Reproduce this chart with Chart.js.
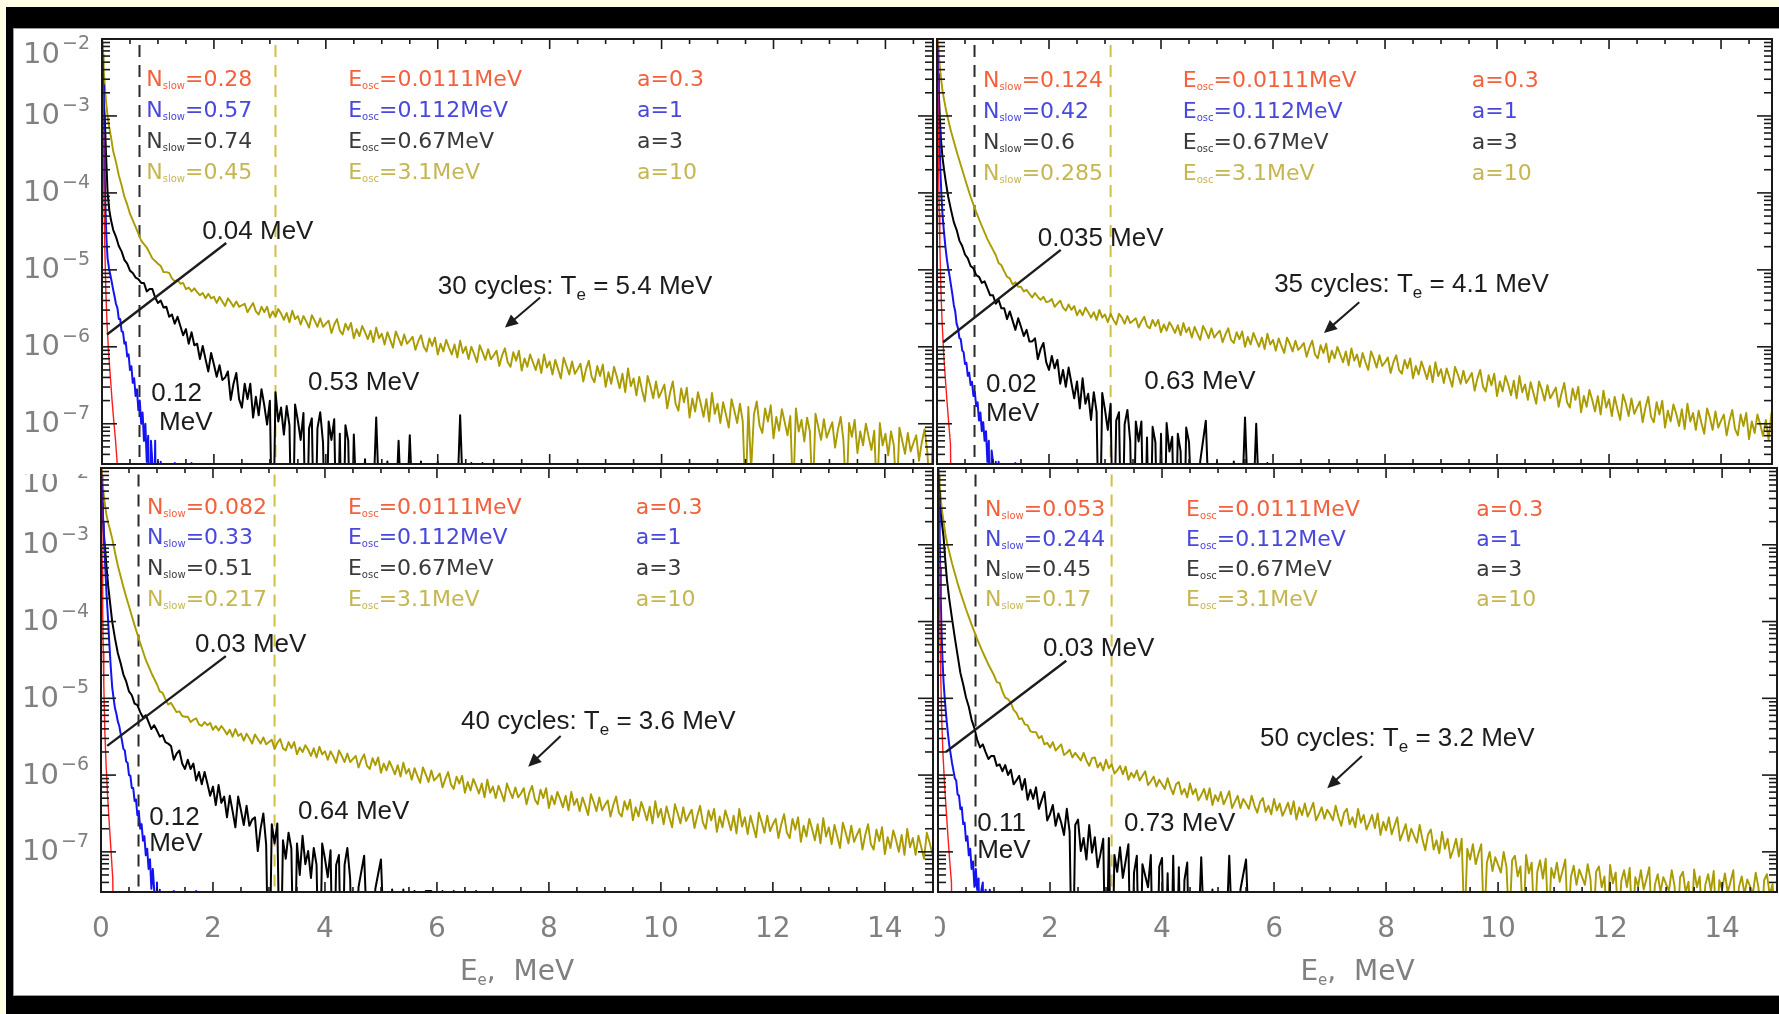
<!DOCTYPE html>
<html>
<head>
<meta charset="utf-8">
<title>Electron energy spectra</title>
<script src="https://cdn.jsdelivr.net/npm/chart.js@4.4.1/dist/chart.umd.min.js"></script>
<style>
  html, body { margin:0; padding:0; }
  body { width:1779px; height:1014px; overflow:hidden; background:#fffde6; position:relative; }
  #frame { position:absolute; left:6px; top:7px; width:1773px; height:1007px; background:#000; }
  #paper { position:absolute; left:13px; top:28px; width:1766px; height:968px; background:#fff; box-sizing:border-box;
           border-top:1px solid #9a9a9a; border-left:1px solid #9a9a9a; border-bottom:1px solid #9a9a9a; }
  canvas { position:absolute; }
</style>
</head>
<body>
<div id="frame"></div>
<div id="paper"></div>
<canvas id="c_tl"></canvas>
<canvas id="c_tr"></canvas>
<canvas id="c_bl"></canvas>
<canvas id="c_br"></canvas>
<script>
// ---------------- DATA ----------------
// energy bins, MeV
const eRed = [0.005,0.01,0.02,0.03,0.04,0.05,0.07,0.09,0.12,0.15,0.18,0.21,0.24,0.27,0.3];
const eBlue = [0.01,0.02,0.03,0.04,0.05,0.06,0.08,0.1,
  0.125,0.15,0.175,0.2,0.225,0.25,0.275,0.3,0.325,0.35,
  0.375,0.4,0.425,0.45,0.475,0.5,0.525,0.55,0.575,0.6,
  0.625,0.65,0.675,0.7,0.725,0.75,0.775,0.8,0.825,0.85,
  0.875,0.9,0.925,0.95,0.975,1.0,1.025,1.05,1.075,1.1,
  1.2,1.3,1.4,1.5,1.6,1.7,1.8];
const eBlack = [0.01,0.02,0.03,0.05,0.07,0.1,0.13,0.16,0.2,
  0.25,0.3,0.35,0.4,0.45,0.5,0.55,0.6,0.65,0.7,
  0.75,0.8,0.85,0.9,0.95,1.0,1.05,1.1,1.15,1.2,
  1.25,1.3,1.35,1.4,1.45,1.5,1.55,1.6,1.65,1.7,
  1.75,1.8,1.85,1.9,1.95,2.0,2.05,2.1,2.15,2.2,
  2.25,2.3,2.35,2.4,2.45,2.5,2.55,2.6,2.65,2.7,
  2.75,2.8,2.85,2.9,2.95,3.0,3.05,3.1,3.15,3.2,
  3.25,3.3,3.35,3.4,3.45,3.5,3.55,3.6,3.65,3.7,
  3.75,3.8,3.85,3.9,3.95,4.0,4.05,4.1,4.15,4.2,
  4.25,4.3,4.35,4.4,4.45,4.5,
  4.6,4.7,4.8,4.9,5.0,5.1,5.2,5.3,5.4,5.5,5.6,5.7,5.8,5.9,6.0,6.1,6.2,6.3,6.4,6.5,6.6,6.7,6.8,6.9,7.0];
const eOlive = [0.01,0.02,0.03,0.05,0.07,0.1,0.13,0.16,0.2,0.25,0.3,0.35,0.4,0.45,0.5,0.6,0.7,0.8,0.9,1.0,
  1.05,1.1,1.15,1.2,1.25,1.3,1.35,1.4,1.45,1.5,
  1.55,1.6,1.65,1.7,1.75,1.8,1.85,1.9,1.95,2.0,
  2.05,2.1,2.15,2.2,2.25,2.3,2.35,2.4,2.45,2.5,
  2.55,2.6,2.65,2.7,2.75,2.8,2.85,2.9,2.95,3.0,
  3.05,3.1,3.15,3.2,3.25,3.3,3.35,3.4,3.45,3.5,
  3.55,3.6,3.65,3.7,3.75,3.8,3.85,3.9,3.95,4.0,
  4.05,4.1,4.15,4.2,4.25,4.3,4.35,4.4,4.45,4.5,
  4.55,4.6,4.65,4.7,4.75,4.8,4.85,4.9,4.95,5.0,
  5.05,5.1,5.15,5.2,5.25,5.3,5.35,5.4,5.45,5.5,
  5.55,5.6,5.65,5.7,5.75,5.8,5.85,5.9,5.95,6.0,
  6.05,6.1,6.15,6.2,6.25,6.3,6.35,6.4,6.45,6.5,
  6.55,6.6,6.65,6.7,6.75,6.8,6.85,6.9,6.95,7.0,
  7.05,7.1,7.15,7.2,7.25,7.3,7.35,7.4,7.45,7.5,
  7.55,7.6,7.65,7.7,7.75,7.8,7.85,7.9,7.95,8.0,
  8.05,8.1,8.15,8.2,8.25,8.3,8.35,8.4,8.45,8.5,
  8.55,8.6,8.65,8.7,8.75,8.8,8.85,8.9,8.95,9.0,
  9.05,9.1,9.15,9.2,9.25,9.3,9.35,9.4,9.45,9.5,
  9.55,9.6,9.65,9.7,9.75,9.8,9.85,9.9,9.95,10.0,
  10.05,10.1,10.15,10.2,10.25,10.3,10.35,10.4,10.45,10.5,
  10.55,10.6,10.65,10.7,10.75,10.8,10.85,10.9,10.95,11.0,
  11.05,11.1,11.15,11.2,11.25,11.3,11.35,11.4,11.45,11.5,
  11.55,11.6,11.65,11.7,11.75,11.8,11.85,11.9,11.95,12.0,
  12.05,12.1,12.15,12.2,12.25,12.3,12.35,12.4,12.45,12.5,
  12.55,12.6,12.65,12.7,12.75,12.8,12.85,12.9,12.95,13.0,
  13.05,13.1,13.15,13.2,13.25,13.3,13.35,13.4,13.45,13.5,
  13.55,13.6,13.65,13.7,13.75,13.8,13.85,13.9,13.95,14.0,
  14.05,14.1,14.15,14.2,14.25,14.3,14.35,14.4,14.45,14.5,
  14.55,14.6,14.65,14.7,14.75,14.8,14.85,14.9,14.95];

// spectra dN/dE for a = 0.3 (red) and a = 1 (blue)
const tlRed = [1e-2,3.2e-3,6.3e-4,1.6e-4,5e-5,2e-5,5e-6,2e-6,7.9e-7,4e-7,2e-7,1.1e-7,6.3e-8,3.2e-8,1e-9];
const trRed = [1e-2,3.5e-3,7e-4,1.8e-4,5.5e-5,2.2e-5,5.5e-6,2.2e-6,8e-7,3.8e-7,1.9e-7,1.0e-7,5.5e-8,1e-9,1e-9];
const blRed = [1e-2,3.2e-3,5.6e-4,1.3e-4,4e-5,1.5e-5,3.5e-6,1.4e-6,5e-7,2.2e-7,1.0e-7,4.5e-8,1e-9,1e-9,1e-9];
const brRed = [1e-2,3.2e-3,6e-4,1.5e-4,4.5e-5,1.8e-5,4.5e-6,1.8e-6,7e-7,3.2e-7,1.5e-7,7.5e-8,4e-8,1e-9,1e-9];

const tlBlue = [6.3e-3,2.5e-3,1.0e-3,4.0e-4,1.6e-4,7.1e-5,2.5e-5,1.4e-5,
  1.05e-5,8.5e-6,6.9e-6,5.5e-6,4.5e-6,3.6e-6,3.2e-6,2.3e-6,2.3e-6,1.6e-6,
  1.55e-6,1.1e-6,1.15e-6,7.5e-7,8.0e-7,5.0e-7,5.6e-7,3.4e-7,3.9e-7,2.3e-7,
  2.8e-7,1.5e-7,2.0e-7,1.0e-7,1.4e-7,6e-8,1.0e-7,3.2e-8,7e-8,1e-9,
  6e-8,3.2e-8,1e-9,6e-8,1e-9,3.2e-8,1e-9,3.2e-8,1e-9,1e-9,
  1e-9,3.1e-8,1e-9,1e-9,3.1e-8,1e-9,1e-9];
const trBlue = [7.9e-3,3.5e-3,1.6e-3,7.1e-4,3.5e-4,2.0e-4,9e-5,5e-5,
  3.1e-5,2.0e-5,1.4e-5,1.05e-5,8.3e-6,6.3e-6,4.8e-6,3.5e-6,2.9e-6,2.0e-6,
  1.75e-6,1.3e-6,1.25e-6,9e-7,8.5e-7,6e-7,6.2e-7,4.2e-7,4.6e-7,3.2e-7,
  3.5e-7,2.3e-7,2.6e-7,1.7e-7,1.9e-7,1.1e-7,1.4e-7,8e-8,1.05e-7,6e-8,
  8e-8,3.2e-8,6e-8,1e-9,4.5e-8,3.2e-8,1e-9,3.2e-8,1e-9,3.2e-8,
  1e-9,1e-9,3.1e-8,1e-9,1e-9,1e-9,1e-9];
const blBlue = [7.9e-3,5.0e-3,3.2e-3,2.0e-3,1.3e-3,8.9e-4,4.5e-4,2.2e-4,
  1.1e-4,5.0e-5,2.5e-5,1.4e-5,1.0e-5,7.4e-6,6.3e-6,5.0e-6,4.4e-6,3.5e-6,
  2.8e-6,2.2e-6,2.1e-6,1.5e-6,1.45e-6,1.0e-6,9.8e-7,6.8e-7,6.8e-7,4.6e-7,
  4.8e-7,3.0e-7,3.4e-7,2.0e-7,2.3e-7,1.4e-7,1.6e-7,9e-8,1.1e-7,6e-8,
  8e-8,3.3e-8,6e-8,3.2e-8,1e-9,4e-8,1e-9,3.2e-8,1e-9,1e-9,
  1e-9,3.1e-8,1e-9,1e-9,1e-9,3.1e-8,1e-9];
const brBlue = [7.9e-3,3.2e-3,1.3e-3,5.0e-4,2.0e-4,9e-5,3.2e-5,1.6e-5,
  9e-6,5.5e-6,3.6e-6,2.5e-6,1.9e-6,1.45e-6,1.15e-6,9.1e-7,8.5e-7,5.6e-7,
  5.4e-7,3.6e-7,3.8e-7,2.3e-7,2.4e-7,1.4e-7,1.6e-7,9e-8,1.1e-7,6e-8,
  7.5e-8,3.5e-8,6e-8,3.2e-8,4.5e-8,1e-9,3.2e-8,4e-8,1e-9,3.2e-8,
  1e-9,1e-9,3.2e-8,1e-9,1e-9,1e-9,1e-9,1e-9,1e-9,1e-9,
  1e-9,1e-9,1e-9,3.1e-8,1e-9,1e-9,1e-9];

// a = 3 (black) spectra, log10(dN/dE) read on the log axis (-9 = empty bin, below the axis)
const tlBlackLog10 = [-2.3,-2.6,-2.8,-3.03,-3.46,-4.0,-4.22,-4.35,-4.48,
  -4.57,-4.69,-4.76,-4.87,-4.92,-5.01,-5.04,-5.10,-5.12,-5.17,
  -5.17,-5.28,-5.25,-5.25,-5.36,-5.43,-5.40,-5.49,-5.48,-5.61,
  -5.58,-5.70,-5.61,-5.73,-5.85,-5.77,-5.96,-5.81,-5.98,-5.96,
  -6.16,-5.99,-6.16,-6.32,-6.08,-6.23,-6.39,-6.24,-6.43,-6.40,
  -6.32,-6.69,-6.48,-6.34,-6.68,-6.79,-6.48,-6.68,-6.48,-6.92,
  -6.65,-6.89,-6.55,-6.76,-7.01,-6.70,-9,-6.59,-6.97,-6.79,
  -7.14,-6.77,-7.02,-9,-6.75,-6.96,-7.21,-6.86,-9,-7.06,
  -6.93,-9,-7.06,-6.85,-7.25,-9,-6.97,-7.21,-6.94,-9,
  -7.13,-9,-7.02,-7.22,-9,-7.14,
  -9,-7.46,-9,-6.92,-9,-7.49,-9,-7.22,-9,-7.15,-9,-7.49,-9,-9,-7.49,-9,-9,-9,-6.89,-9,-7.51,-9,-7.51,-9,-9];
const trBlackLog10 = [-2.2,-2.46,-2.66,-3.01,-3.3,-3.55,-3.72,-3.87,-4.05,
  -4.22,-4.38,-4.48,-4.62,-4.69,-4.80,-4.85,-4.95,-4.98,-5.07,
  -5.09,-5.17,-5.15,-5.24,-5.33,-5.33,-5.44,-5.39,-5.50,-5.50,
  -5.64,-5.54,-5.66,-5.78,-5.63,-5.74,-5.86,-5.78,-5.93,-5.93,
  -5.89,-6.16,-6.03,-5.95,-6.20,-6.30,-6.12,-6.28,-6.17,-6.48,
  -6.30,-6.52,-6.27,-6.47,-6.67,-6.45,-6.80,-6.41,-6.74,-6.61,
  -6.95,-6.59,-6.85,-9,-6.60,-6.82,-7.08,-6.74,-9,-6.96,
  -6.85,-9,-7.01,-6.82,-7.23,-9,-6.97,-7.23,-6.97,-9,
  -7.18,-9,-7.04,-7.24,-9,-7.13,-9,-6.99,-7.36,-7.17,
  -9,-7.13,-7.36,-9,-7.05,-7.24,
  -9,-7.49,-6.96,-9,-7.49,-9,-9,-7.49,-9,-6.92,-9,-7.0,-9,-7.51,-9,-9,-9,-9,-9,-9,-9,-9,-9,-9,-9];
const blBlackLog10 = [-2.2,-2.46,-2.66,-2.85,-3.02,-3.3,-3.55,-3.74,-4.0,
  -4.22,-4.41,-4.54,-4.69,-4.78,-4.91,-4.96,-5.07,-5.09,-5.18,
  -5.25,-5.22,-5.31,-5.40,-5.35,-5.42,-5.50,-5.48,-5.57,-5.59,
  -5.62,-5.80,-5.72,-5.68,-5.85,-5.92,-5.80,-5.92,-5.85,-6.07,
  -5.96,-6.12,-5.96,-6.11,-6.27,-6.15,-6.39,-6.13,-6.36,-6.28,
  -6.55,-6.27,-6.47,-6.68,-6.28,-6.46,-6.65,-6.40,-6.66,-6.58,
  -6.55,-6.99,-6.70,-6.50,-6.91,-9,-6.64,-6.89,-6.63,-9,
  -6.85,-7.09,-6.75,-6.96,-9,-6.89,-7.30,-6.79,-7.16,-6.99,
  -7.34,-6.95,-7.17,-9,-6.89,-7.09,-7.33,-6.98,-9,-7.17,
  -7.04,-9,-7.17,-6.95,-7.35,-9,
  -7.46,-7.05,-9,-7.48,-7.1,-9,-7.49,-9,-7.49,-9,-7.51,-9,-7.51,-7.51,-9,-7.51,-9,-7.51,-9,-7.51,-9,-7.51,-9,-9,-7.51];
const brBlackLog10 = [-2.1,-2.3,-2.46,-2.6,-2.72,-2.9,-3.2,-3.46,-3.7,
  -3.96,-4.21,-4.44,-4.67,-4.82,-4.99,-5.11,-5.28,-5.39,-5.54,
  -5.64,-5.60,-5.70,-5.79,-5.75,-5.75,-5.88,-5.86,-5.95,-5.87,
  -6.00,-5.93,-6.12,-6.07,-6.01,-6.19,-6.05,-6.32,-6.19,-6.31,
  -6.16,-6.44,-6.33,-6.22,-6.59,-6.51,-6.39,-6.66,-6.50,-6.62,
  -6.78,-6.44,-6.74,-9,-6.65,-6.58,-6.99,-6.82,-7.10,-6.65,
  -7.01,-6.81,-7.20,-7.03,-6.83,-9,-6.82,-9,-7.04,-7.26,
  -6.94,-7.34,-7.12,-6.90,-9,-7.27,-7.05,-9,-7.16,-7.31,
  -7.46,-7.04,-9,-9,-7.19,-7.08,-9,-7.28,-9,-7.05,
  -9,-7.2,-9,-7.37,-7.14,-9,
  -9,-7.07,-9,-7.49,-9,-9,-7.05,-9,-7.49,-7.1,-9,-9,-9,-9,-9,-9,-9,-9,-9,-9,-9,-9,-9,-9,-9];

// a = 10 (olive) spectra, log10(dN/dE) read on the log axis (-8 = empty bin)
const tlOliveLog10 = [-2.05,-2.2,-2.4,-2.6,-2.8,-3.0,-3.15,-3.27,-3.46,-3.6,-3.77,-3.9,-4.05,-4.15,-4.27,-4.44,-4.62,-4.71,-4.85,-4.92,
  -4.95,-5.03,-5.03,-5.04,-5.11,-5.15,-5.13,-5.18,-5.17,-5.25,
  -5.23,-5.28,-5.24,-5.29,-5.33,-5.30,-5.37,-5.31,-5.37,-5.35,
  -5.43,-5.35,-5.41,-5.47,-5.37,-5.42,-5.48,-5.41,-5.48,-5.46,
  -5.44,-5.55,-5.49,-5.43,-5.54,-5.58,-5.48,-5.55,-5.48,-5.62,
  -5.54,-5.61,-5.51,-5.57,-5.65,-5.56,-5.68,-5.53,-5.64,-5.60,
  -5.71,-5.60,-5.67,-5.75,-5.59,-5.66,-5.74,-5.63,-5.74,-5.70,
  -5.66,-5.82,-5.71,-5.64,-5.79,-5.84,-5.70,-5.78,-5.69,-5.89,
  -5.77,-5.86,-5.73,-5.81,-5.90,-5.79,-5.94,-5.75,-5.89,-5.83,
  -5.97,-5.81,-5.91,-6.01,-5.80,-5.89,-5.98,-5.84,-5.96,-5.92,
  -5.87,-6.04,-5.93,-5.85,-6.00,-6.06,-5.89,-5.99,-5.88,-6.10,
  -5.96,-6.06,-5.91,-6.01,-6.10,-5.97,-6.14,-5.92,-6.08,-6.00,
  -6.16,-6.00,-6.09,-6.20,-5.98,-6.07,-6.17,-6.03,-6.16,-6.11,
  -6.05,-6.25,-6.11,-6.02,-6.20,-6.26,-6.07,-6.18,-6.05,-6.31,
  -6.15,-6.26,-6.10,-6.20,-6.30,-6.16,-6.34,-6.10,-6.27,-6.19,
  -6.36,-6.17,-6.29,-6.41,-6.14,-6.25,-6.36,-6.19,-6.35,-6.29,
  -6.22,-6.45,-6.29,-6.18,-6.39,-6.46,-6.25,-6.38,-6.23,-6.52,
  -6.33,-6.48,-6.26,-6.39,-6.54,-6.35,-6.59,-6.28,-6.51,-6.41,
  -6.63,-6.39,-6.56,-6.71,-6.38,-6.51,-6.67,-6.45,-6.66,-6.58,
  -6.49,-6.80,-6.60,-6.45,-6.74,-6.83,-6.54,-6.72,-6.53,-6.92,
  -6.67,-6.84,-6.59,-6.74,-6.91,-6.68,-6.97,-6.60,-6.87,-6.74,
  -6.99,-6.72,-6.88,-7.05,-6.68,-6.83,-6.99,-6.74,-6.97,-8.0,
  -6.78,-7.6,-6.88,-6.71,-7.02,-7.12,-6.80,-6.97,-6.76,-7.19,
  -6.91,-7.09,-6.81,-6.98,-7.15,-6.90,-8.0,-6.80,-7.10,-6.95,
  -7.23,-6.92,-7.10,-8.0,-6.87,-7.04,-7.21,-6.94,-7.18,-7.08,
  -6.98,-7.31,-7.08,-6.91,-7.22,-8.0,-6.99,-7.17,-6.95,-7.38,
  -7.10,-7.28,-7.00,-7.17,-7.34,-7.09,-8.0,-6.99,-7.28,-7.13,
  -7.41,-7.10,-7.28,-8.0,-7.05,-7.22,-7.39,-7.12,-7.36,-7.25,
  -7.15,-7.48,-7.24,-7.07,-7.38,-8.0,-7.15,-7.33,-7.11];
const trOliveLog10 = [-2.0,-2.1,-2.2,-2.35,-2.5,-2.68,-2.8,-2.92,-3.05,-3.2,-3.33,-3.46,-3.58,-3.7,-3.82,-4.05,-4.25,-4.43,-4.6,-4.74,
  -4.81,-4.91,-4.94,-5.02,-5.09,-5.11,-5.19,-5.16,-5.22,-5.22,
  -5.28,-5.26,-5.31,-5.36,-5.30,-5.35,-5.39,-5.35,-5.42,-5.41,
  -5.38,-5.48,-5.44,-5.40,-5.49,-5.53,-5.45,-5.52,-5.47,-5.59,
  -5.52,-5.59,-5.49,-5.55,-5.62,-5.55,-5.65,-5.52,-5.62,-5.58,
  -5.68,-5.57,-5.65,-5.71,-5.57,-5.62,-5.70,-5.60,-5.69,-5.66,
  -5.63,-5.75,-5.67,-5.61,-5.73,-5.76,-5.65,-5.73,-5.65,-5.81,
  -5.71,-5.79,-5.68,-5.74,-5.82,-5.72,-5.85,-5.69,-5.81,-5.75,
  -5.88,-5.74,-5.83,-5.91,-5.73,-5.80,-5.89,-5.76,-5.88,-5.83,
  -5.79,-5.94,-5.84,-5.76,-5.91,-5.95,-5.81,-5.90,-5.80,-6.00,
  -5.87,-5.97,-5.82,-5.91,-6.00,-5.88,-6.03,-5.83,-5.97,-5.91,
  -6.05,-5.89,-5.99,-6.08,-5.88,-5.96,-6.06,-5.92,-6.04,-6.00,
  -5.95,-6.13,-6.01,-5.92,-6.10,-6.15,-5.98,-6.08,-5.96,-6.20,
  -6.05,-6.15,-6.00,-6.10,-6.20,-6.06,-6.24,-6.02,-6.18,-6.10,
  -6.26,-6.08,-6.20,-6.30,-6.06,-6.15,-6.27,-6.11,-6.25,-6.20,
  -6.14,-6.34,-6.20,-6.11,-6.30,-6.35,-6.17,-6.28,-6.15,-6.41,
  -6.25,-6.36,-6.19,-6.30,-6.42,-6.25,-6.46,-6.20,-6.38,-6.29,
  -6.47,-6.28,-6.40,-6.52,-6.26,-6.36,-6.48,-6.31,-6.47,-6.41,
  -6.34,-6.57,-6.41,-6.30,-6.52,-6.58,-6.37,-6.50,-6.35,-6.64,
  -6.45,-6.58,-6.38,-6.49,-6.63,-6.44,-6.67,-6.38,-6.59,-6.49,
  -6.69,-6.46,-6.60,-6.74,-6.45,-6.56,-6.70,-6.50,-6.67,-6.60,
  -6.53,-6.78,-6.61,-6.47,-6.72,-6.79,-6.54,-6.69,-6.52,-6.85,
  -6.64,-6.78,-6.56,-6.69,-6.84,-6.64,-6.88,-6.57,-6.79,-6.68,
  -6.90,-6.65,-6.81,-6.95,-6.62,-6.74,-6.90,-6.67,-6.87,-6.79,
  -6.71,-6.98,-6.79,-6.65,-6.91,-6.98,-6.72,-6.88,-6.70,-7.05,
  -6.83,-6.97,-6.75,-6.87,-7.03,-6.81,-7.07,-6.74,-6.97,-6.86,
  -7.08,-6.83,-6.99,-7.13,-6.80,-6.92,-7.08,-6.84,-7.05,-6.96,
  -6.88,-7.15,-6.96,-6.82,-7.07,-7.15,-6.88,-7.03,-6.86,-7.20,
  -6.97,-7.12,-6.88,-7.01,-7.16,-6.95,-7.21,-6.86,-7.10];
const blOliveLog10 = [-2.0,-2.1,-2.2,-2.35,-2.48,-2.62,-2.72,-2.8,-2.92,-3.1,-3.27,-3.41,-3.55,-3.68,-3.8,-4.05,-4.28,-4.5,-4.67,-4.82,
  -4.91,-4.93,-5.01,-5.08,-5.06,-5.12,-5.18,-5.17,-5.23,-5.24,
  -5.24,-5.31,-5.28,-5.26,-5.34,-5.36,-5.31,-5.35,-5.32,-5.41,
  -5.36,-5.42,-5.36,-5.41,-5.47,-5.41,-5.50,-5.40,-5.49,-5.46,
  -5.55,-5.46,-5.52,-5.59,-5.47,-5.53,-5.59,-5.51,-5.60,-5.57,
  -5.54,-5.66,-5.58,-5.53,-5.65,-5.68,-5.57,-5.65,-5.57,-5.73,
  -5.64,-5.70,-5.61,-5.67,-5.75,-5.65,-5.77,-5.63,-5.73,-5.69,
  -5.80,-5.69,-5.76,-5.84,-5.68,-5.75,-5.83,-5.72,-5.83,-5.79,
  -5.75,-5.90,-5.80,-5.73,-5.88,-5.92,-5.78,-5.87,-5.77,-5.97,
  -5.85,-5.94,-5.82,-5.90,-5.99,-5.87,-6.02,-5.84,-5.98,-5.92,
  -6.06,-5.91,-6.01,-6.10,-5.90,-5.99,-6.09,-5.94,-6.07,-6.03,
  -5.98,-6.16,-6.05,-5.96,-6.12,-6.18,-6.02,-6.11,-6.01,-6.23,
  -6.09,-6.20,-6.05,-6.14,-6.24,-6.11,-6.29,-6.06,-6.23,-6.15,
  -6.30,-6.14,-6.23,-6.34,-6.11,-6.21,-6.30,-6.16,-6.29,-6.24,
  -6.17,-6.38,-6.23,-6.14,-6.32,-6.38,-6.19,-6.30,-6.17,-6.43,
  -6.27,-6.38,-6.22,-6.31,-6.42,-6.27,-6.46,-6.22,-6.39,-6.31,
  -6.47,-6.29,-6.40,-6.52,-6.25,-6.35,-6.47,-6.29,-6.46,-6.39,
  -6.33,-6.54,-6.39,-6.28,-6.49,-6.54,-6.34,-6.45,-6.32,-6.59,
  -6.42,-6.54,-6.35,-6.46,-6.59,-6.41,-6.63,-6.34,-6.55,-6.44,
  -6.64,-6.41,-6.55,-6.68,-6.38,-6.50,-6.63,-6.42,-6.60,-6.52,
  -6.45,-6.69,-6.53,-6.40,-6.62,-6.70,-6.46,-6.59,-6.44,-6.74,
  -6.54,-6.68,-6.46,-6.58,-6.72,-6.53,-6.76,-6.44,-6.67,-6.55,
  -6.77,-6.53,-6.67,-6.81,-6.49,-6.61,-6.75,-6.53,-6.73,-6.64,
  -6.57,-6.82,-6.64,-6.51,-6.75,-6.82,-6.57,-6.71,-6.55,-6.87,
  -6.66,-6.80,-6.57,-6.70,-6.85,-6.64,-6.89,-6.56,-6.80,-6.68,
  -6.90,-6.65,-6.80,-6.95,-6.62,-6.75,-6.89,-6.66,-6.87,-6.78,
  -6.70,-6.97,-6.78,-6.64,-6.90,-6.97,-6.71,-6.86,-6.68,-7.03,
  -6.81,-6.95,-6.72,-6.85,-7.00,-6.78,-7.04,-6.70,-6.94,-6.82,
  -7.04,-6.79,-6.94,-7.09,-6.75,-6.88,-7.03,-6.80,-7.00];
const brOliveLog10 = [-2.0,-2.1,-2.22,-2.4,-2.55,-2.7,-2.85,-2.97,-3.09,-3.24,-3.37,-3.5,-3.62,-3.73,-3.84,-4.04,-4.23,-4.4,-4.56,-4.70,
  -4.79,-4.80,-4.91,-4.99,-5.01,-5.06,-5.15,-5.19,-5.27,-5.26,
  -5.34,-5.35,-5.43,-5.44,-5.44,-5.52,-5.49,-5.60,-5.58,-5.64,
  -5.57,-5.68,-5.64,-5.60,-5.74,-5.71,-5.67,-5.77,-5.71,-5.76,
  -5.81,-5.71,-5.81,-5.88,-5.78,-5.77,-5.90,-5.84,-5.94,-5.80,
  -5.91,-5.86,-5.98,-5.94,-5.88,-5.99,-5.89,-6.06,-5.97,-6.03,
  -5.94,-6.07,-6.01,-5.95,-6.13,-6.08,-6.02,-6.15,-6.06,-6.12,
  -6.18,-6.04,-6.16,-6.25,-6.12,-6.09,-6.25,-6.18,-6.29,-6.11,
  -6.25,-6.18,-6.33,-6.26,-6.18,-6.32,-6.17,-6.39,-6.26,-6.34,
  -6.22,-6.38,-6.30,-6.21,-6.43,-6.35,-6.27,-6.43,-6.31,-6.37,
  -6.44,-6.27,-6.40,-6.49,-6.35,-6.30,-6.48,-6.40,-6.51,-6.31,
  -6.46,-6.37,-6.53,-6.45,-6.36,-6.51,-6.34,-6.58,-6.42,-6.52,
  -6.37,-6.54,-6.46,-6.36,-6.59,-6.51,-6.42,-6.57,-6.45,-6.51,
  -6.59,-6.40,-6.55,-6.66,-6.49,-6.44,-6.64,-6.55,-6.68,-6.44,
  -6.62,-6.52,-6.71,-6.62,-6.52,-6.69,-6.50,-6.78,-6.61,-6.72,
  -6.55,-6.77,-6.66,-6.55,-6.85,-6.75,-6.64,-6.86,-6.70,-6.79,
  -6.88,-6.65,-6.84,-6.98,-6.77,-6.71,-6.97,-6.85,-7.02,-6.74,
  -6.96,-6.83,-7.08,-6.97,-6.83,-7.06,-6.83,-8.0,-6.96,-7.10,
  -6.90,-7.16,-7.02,-6.90,-8.0,-7.14,-7.00,-7.25,-7.07,-7.17,
  -7.27,-7.00,-7.20,-8.0,-7.11,-7.05,-7.32,-7.19,-8.0,-7.04,
  -7.28,-7.14,-8.0,-7.26,-7.11,-7.35,-7.09,-8.0,-7.21,-7.34,
  -7.14,-7.39,-7.25,-7.10,-8.0,-7.33,-7.18,-7.43,-7.23,-7.33,
  -7.43,-7.16,-7.36,-8.0,-7.26,-7.19,-7.46,-7.32,-8.0,-7.17,
  -7.41,-7.27,-8.0,-7.38,-7.24,-7.46,-7.21,-8.0,-7.33,-7.45,
  -7.24,-7.49,-7.35,-7.20,-8.0,-7.43,-7.29,-7.52,-7.33,-7.42,
  -7.51,-7.24,-7.44,-8.0,-7.33,-7.26,-7.53,-7.39,-8.0,-7.23,
  -7.46,-7.32,-8.0,-7.43,-7.29,-7.51,-7.25,-8.0,-7.37,-7.49,
  -7.28,-7.53,-7.39,-7.24,-8.0,-7.46,-7.32,-7.55,-7.36,-7.45,
  -7.54,-7.27,-7.47,-8.0,-7.37,-7.29,-7.56,-7.42,-8.0];

// E_osc markers (dashed lines), MeV
const eOscDash = [0.67, 3.1];
// axis ticks / labels
const xTickLabels = [0, 2, 4, 6, 8, 10, 12, 14];
const yTickExponents = [-2, -3, -4, -5, -6, -7];
// legend texts
const aLabels = ['a=0.3', 'a=1', 'a=3', 'a=10'];
const eoscLabels = ['0.0111MeV', '0.112MeV', '0.67MeV', '3.1MeV'];
const nslowTL = ['0.28', '0.57', '0.74', '0.45'];
const nslowTR = ['0.124', '0.42', '0.6', '0.285'];
const nslowBL = ['0.082', '0.33', '0.51', '0.217'];
const nslowBR = ['0.053', '0.244', '0.45', '0.17'];
const cyclesLabels = [['30 cycles: T', ' = 5.4 MeV'], ['35 cycles: T', ' = 4.1 MeV'], ['40 cycles: T', ' = 3.6 MeV'], ['50 cycles: T', ' = 3.2 MeV']];
const crossLabels = ['0.04 MeV', '0.035 MeV', '0.03 MeV', '0.03 MeV'];
const blueTempLabels = ['0.12', '0.02', '0.12', '0.11'];
const blackTempLabels = ['0.53 MeV', '0.63 MeV', '0.64 MeV', '0.73 MeV'];

// ---------------- LAYOUT / STYLE ----------------
const Y_MIN = Math.pow(10, -7.52), Y_MAX = 1e-2;
const COL = { red:'#ff1c1c', blue:'#1414f0', black:'#000000', olive:'#a99b00' };
const TXT = { red:'#f2603c', blue:'#4848dc', black:'#3a3a3a', olive:'#c6b652' };
const LABEL_GRAY = '#808080';
// annotation anchors in data coordinates (x in MeV, y as log10)
const panels = [
  { id:'c_tl', box:[13,29,923,437], pad:{left:89,top:10,right:3,bottom:2}, xMax:14.85, yLab:true, xLab:false,
    red:tlRed, blue:tlBlue, blackLog:tlBlackLog10, oliveLog:tlOliveLog10, nslow:nslowTL, k:0,
    colX:[0.79,4.40,9.56], rowY:[-2.51,-2.91,-3.31,-3.71], cross:[1.79,-4.47], crossLine:[0.09,-5.84,2.22,-4.65],
    blueT:[0.88,-6.58,1.02,-6.96], blackT:[3.68,-6.44], cyc:[6.0,-5.19], arrow:[7.83,-5.36,7.2,-5.75] },
  { id:'c_tr', box:[934,29,845,437], pad:{left:3,top:10,right:7,bottom:2}, xMax:14.91, yLab:false, xLab:false,
    red:trRed, blue:trBlue, blackLog:trBlackLog10, oliveLog:trOliveLog10, nslow:nslowTR, k:1,
    colX:[0.82,4.39,9.55], rowY:[-2.52,-2.92,-3.32,-3.73], cross:[1.80,-4.57], crossLine:[0.11,-5.94,2.21,-4.74],
    blueT:[0.875,-6.47,0.875,-6.84], blackT:[3.70,-6.43], cyc:[6.02,-5.17], arrow:[7.54,-5.42,6.91,-5.82] },
  { id:'c_bl', box:[13,466,923,530], pad:{left:88,top:2,right:3,bottom:104}, xMax:14.86, yLab:true, xLab:true, yClip:474,
    red:blRed, blue:blBlue, blackLog:blBlackLog10, oliveLog:blOliveLog10, nslow:nslowBL, k:2,
    colX:[0.82,4.41,9.55], rowY:[-2.49,-2.885,-3.29,-3.69], cross:[1.68,-4.27], crossLine:[0.11,-5.62,2.23,-4.45],
    blueT:[0.86,-6.52,0.86,-6.87], blackT:[3.52,-6.45], cyc:[6.43,-5.28], arrow:[8.21,-5.49,7.63,-5.89] },
  { id:'c_br', box:[935,466,844,530], pad:{left:3,top:2,right:2,bottom:104}, xMax:14.98, yLab:false, xLab:true,
    red:brRed, blue:brBlue, blackLog:brBlackLog10, oliveLog:brOliveLog10, nslow:nslowBR, k:3,
    colX:[0.84,4.43,9.61], rowY:[-2.52,-2.91,-3.30,-3.69], cross:[1.875,-4.33], crossLine:[0.14,-5.70,2.29,-4.51],
    blueT:[0.70,-6.61,0.70,-6.96], blackT:[3.32,-6.61], cyc:[5.75,-5.50], arrow:[7.57,-5.75,6.95,-6.17] },
];

function pts(xs, ys) { return xs.map((x, i) => ({ x: x, y: ys[i] })); }
function ptsLog(xs, lg) { return xs.map((x, i) => ({ x: x, y: Math.pow(10, lg[i]) })); }

function rich(ctx, parts, x, yBase, color) {
  let cx = x;
  ctx.fillStyle = color;
  ctx.textBaseline = 'alphabetic';
  ctx.textAlign = 'left';
  for (const p of parts) {
    ctx.font = p[1];
    ctx.fillText(p[0], cx, yBase + p[2]);
    cx += ctx.measureText(p[0]).width;
  }
  return cx - x;
}
function richWidth(ctx, parts) {
  let w = 0;
  for (const p of parts) { ctx.font = p[1]; w += ctx.measureText(p[0]).width; }
  return w;
}
function seg(ctx, x1, y1, x2, y2) { ctx.beginPath(); ctx.moveTo(x1, y1); ctx.lineTo(x2, y2); ctx.stroke(); }

const LEG = '22px "DejaVu Sans"', LEGS = '10px "DejaVu Sans"';
const NOTE = '26px "Liberation Sans"', NOTES = '17px "Liberation Sans"';
const TICKF = '29px "DejaVu Sans"', TICKS = '19px "DejaVu Sans"';

const decor = {
  id: 'decor',
  afterDatasetsDraw(chart, args, opts) {
    const P = opts.panel;
    const ctx = chart.ctx, a = chart.chartArea, xs = chart.scales.x, ys = chart.scales.y;
    const X = v => xs.getPixelForValue(v);
    const Y = lv => ys.getPixelForValue(Math.pow(10, lv));
    const L = a.left, R = a.right, T = a.top, B = a.bottom;
    ctx.save();
    ctx.strokeStyle = '#1a1a1a'; ctx.lineWidth = 2;
    ctx.strokeRect(L, T, R - L, B - T);
    ctx.lineWidth = 1.6;
    for (let k = 0; k * 0.5 <= xs.max + 1e-6; k++) {
      const px = X(k * 0.5), len = (k % 4 === 0) ? 10 : 5;
      seg(ctx, px, B, px, B - len); seg(ctx, px, T, px, T + len);
    }
    for (let n = -8; n <= -2; n++) {
      for (let m = 1; m <= 9; m++) {
        const v = m * Math.pow(10, n);
        if (v < ys.min * 0.999 || v > ys.max * 1.001) continue;
        const py = ys.getPixelForValue(v), len = (m === 1) ? 15 : 8;
        seg(ctx, L, py, L + len, py); seg(ctx, R, py, R - len, py);
      }
    }
    if (P.yLab) {
      for (const e of yTickExponents) {
        const py = ys.getPixelForValue(Math.pow(10, e));
        const cy = Math.max(py - 2, T + 13);
        const sup = '\u2212' + Math.abs(e);
        const w = richWidth(ctx, [['10', TICKF, 0], [sup, TICKS, 0]]) + 2;
        ctx.save();
        if (P.yClip && e === -2) { ctx.beginPath(); ctx.rect(0, P.yClip - P.box[1], 2000, 2000); ctx.clip(); }
        rich(ctx, [['10', TICKF, 0]], L - 12 - w, cy + 10.5, LABEL_GRAY);
        ctx.font = TICKF; const w10 = ctx.measureText('10').width;
        rich(ctx, [[sup, TICKS, 0]], L - 12 - w + w10 + 2, cy - 3, LABEL_GRAY);
        ctx.restore();
      }
    }
    if (P.xLab) {
      ctx.fillStyle = LABEL_GRAY; ctx.font = '28px "DejaVu Sans"';
      ctx.textAlign = 'center'; ctx.textBaseline = 'middle';
      for (const v of xTickLabels) ctx.fillText(String(v), X(v), B + 38);
      const parts = [['E', '28px "DejaVu Sans"', 0], ['e', '15px "DejaVu Sans"', 5], [',  MeV', '28px "DejaVu Sans"', 0]];
      const w = richWidth(ctx, parts);
      rich(ctx, parts, (L + R) / 2 - w / 2, B + 88, LABEL_GRAY);
    }
    const cols = [TXT.red, TXT.blue, TXT.black, TXT.olive];
    for (let r = 0; r < 4; r++) {
      const yb = Y(P.rowY[r]) + 8;
      rich(ctx, [['N', LEG, 0], ['slow', LEGS, 3], ['=' + P.nslow[r], LEG, 0]], X(P.colX[0]), yb, cols[r]);
      rich(ctx, [['E', LEG, 0], ['osc', LEGS, 3], ['=' + eoscLabels[r], LEG, 0]], X(P.colX[1]), yb, cols[r]);
      rich(ctx, [[aLabels[r], LEG, 0]], X(P.colX[2]), yb, cols[r]);
    }
    const ink = '#1c1c1c';
    rich(ctx, [[crossLabels[P.k], NOTE, 0]], X(P.cross[0]), Y(P.cross[1]) + 9.5, ink);
    rich(ctx, [[blueTempLabels[P.k], NOTE, 0]], X(P.blueT[0]), Y(P.blueT[1]) + 9.5, ink);
    rich(ctx, [['MeV', NOTE, 0]], X(P.blueT[2]), Y(P.blueT[3]) + 9.5, ink);
    rich(ctx, [[blackTempLabels[P.k], NOTE, 0]], X(P.blackT[0]), Y(P.blackT[1]) + 9.5, ink);
    rich(ctx, [[cyclesLabels[P.k][0], NOTE, 0], ['e', NOTES, 6], [cyclesLabels[P.k][1], NOTE, 0]], X(P.cyc[0]), Y(P.cyc[1]) + 9.5, ink);
    ctx.strokeStyle = ink; ctx.lineWidth = 2.4;
    const cl = P.crossLine;
    seg(ctx, X(cl[0]), Y(cl[1]), X(cl[2]), Y(cl[3]));
    const ar = P.arrow;
    const x1 = X(ar[0]), y1 = Y(ar[1]), x2 = X(ar[2]), y2 = Y(ar[3]);
    ctx.lineWidth = 2;
    const ang = Math.atan2(y2 - y1, x2 - x1), hl = 13, hw = 6;
    seg(ctx, x1, y1, x2 - Math.cos(ang) * hl * 0.8, y2 - Math.sin(ang) * hl * 0.8);
    ctx.fillStyle = ink; ctx.beginPath();
    ctx.moveTo(x2, y2);
    ctx.lineTo(x2 - Math.cos(ang) * hl + Math.sin(ang) * hw, y2 - Math.sin(ang) * hl - Math.cos(ang) * hw);
    ctx.lineTo(x2 - Math.cos(ang) * hl - Math.sin(ang) * hw, y2 - Math.sin(ang) * hl + Math.cos(ang) * hw);
    ctx.closePath(); ctx.fill();
    ctx.restore();
  }
};

for (const P of panels) {
  const cv = document.getElementById(P.id);
  cv.style.left = P.box[0] + 'px'; cv.style.top = P.box[1] + 'px';
  cv.width = P.box[2]; cv.height = P.box[3];
  cv.style.width = P.box[2] + 'px'; cv.style.height = P.box[3] + 'px';
  const line = (data, color, w, extra) => Object.assign({ data: data, borderColor: color, borderWidth: w,
    pointRadius: 0, tension: 0, fill: false, borderJoinStyle: 'round' }, extra || {});
  new Chart(cv.getContext('2d'), {
    type: 'line',
    data: {
      datasets: [
        line(pts(eRed, P.red), COL.red, 1.4),
        line(pts(eBlue, P.blue), COL.blue, 2.0),
        line(ptsLog(eBlack, P.blackLog), COL.black, 2.0),
        line(ptsLog(eOlive, P.oliveLog), COL.olive, 1.9),
        line([{ x: eOscDash[0], y: 1 }, { x: eOscDash[0], y: 1e-9 }], '#2a2a2a', 2, { borderDash: [12, 8] }),
        line([{ x: eOscDash[1], y: 1 }, { x: eOscDash[1], y: 1e-9 }], '#d2bf45', 2, { borderDash: [12, 8] }),
      ]
    },
    options: {
      responsive: false, animation: false, events: [], devicePixelRatio: 1,
      layout: { padding: P.pad },
      plugins: { legend: { display: false }, tooltip: { enabled: false }, decor: { panel: P } },
      scales: {
        x: { type: 'linear', min: 0, max: P.xMax, display: false },
        y: { type: 'logarithmic', min: Y_MIN, max: Y_MAX, display: false }
      }
    },
    plugins: [decor]
  });
}
</script>
</body>
</html>
